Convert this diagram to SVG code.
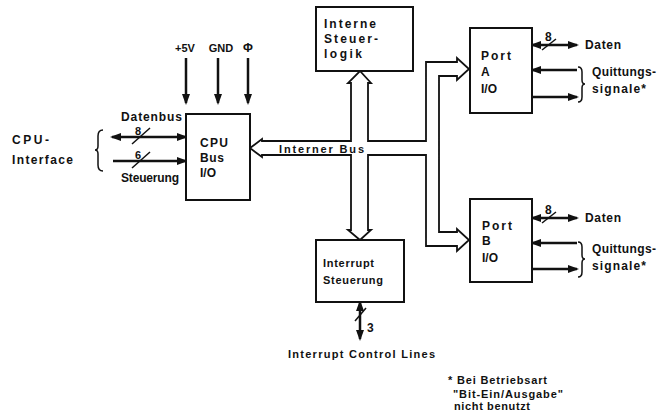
<svg xmlns="http://www.w3.org/2000/svg" width="661" height="412" viewBox="0 0 661 412">
<style>
  .box { fill: #fff; stroke: #111; stroke-width: 2; }
  .t { font-family: "Liberation Sans", Arial, sans-serif; font-size: 12px; font-weight: bold; fill: #111; }
  .s { font-size: 11px; }
  .sig { stroke: #111; stroke-width: 2.5; fill: none; }
  .thin { stroke: #111; stroke-width: 1.5; fill: none; }
  .bus { fill: #fff; stroke: #111; stroke-width: 1.8; stroke-linejoin: miter; }
</style>
<defs>
  <marker id="ah" markerWidth="11" markerHeight="8" refX="9" refY="4" orient="auto-start-reverse" markerUnits="userSpaceOnUse">
    <path d="M0,0 L11,4 L0,8 z" fill="#111"/>
  </marker>
</defs>
<rect width="661" height="412" fill="#fff"/>

<g id="connectors">
  <path class="bus" d="M250,148 L262,139 L262,141 L351,141 L351,83 L348,83 L360,71 L371,83 L368,83 L368,141 L426,141 L426,62 L457,62 L457,58 L469,69 L457,80 L457,76 L439,76 L439,232 L457,232 L457,229 L469,240 L457,251 L457,246 L426,246 L426,155 L368,155 L368,230 L371,230 L360,240 L348,230 L351,230 L351,155 L262,155 L262,157 Z"/>
  <line class="sig" x1="186" y1="58" x2="186" y2="103" marker-end="url(#ah)"/>
  <line class="sig" x1="218" y1="58" x2="218" y2="103" marker-end="url(#ah)"/>
  <line class="sig" x1="248" y1="58" x2="248" y2="103" marker-end="url(#ah)"/>
  <line class="sig" x1="112" y1="137" x2="186" y2="137" marker-start="url(#ah)" marker-end="url(#ah)"/>
  <line class="thin" x1="132" y1="144" x2="150" y2="128"/>
  <line class="sig" x1="113" y1="161" x2="186" y2="161" marker-end="url(#ah)"/>
  <line class="thin" x1="132" y1="168" x2="150" y2="152"/>
  <path class="thin" d="M103,130 Q98,130 98,136 L98,146 Q98,150 95,150 Q98,150 98,154 L98,165 Q98,171 103,171"/>
  <line class="sig" x1="532" y1="45" x2="577" y2="45" marker-start="url(#ah)" marker-end="url(#ah)"/>
  <line class="thin" x1="542" y1="50" x2="556" y2="39"/>
  <line class="sig" x1="577" y1="70" x2="532" y2="70" marker-end="url(#ah)"/>
  <line class="sig" x1="532" y1="97" x2="577" y2="97" marker-end="url(#ah)"/>
  <path class="thin" d="M578,67 Q582,67 582,72 L582,80 Q582,84 585,84 Q582,84 582,88 L582,97 Q582,102 578,102"/>
  <line class="sig" x1="532" y1="218" x2="577" y2="218" marker-start="url(#ah)" marker-end="url(#ah)"/>
  <line class="thin" x1="542" y1="223" x2="556" y2="212"/>
  <line class="sig" x1="577" y1="243" x2="532" y2="243" marker-end="url(#ah)"/>
  <line class="sig" x1="532" y1="269" x2="577" y2="269" marker-end="url(#ah)"/>
  <path class="thin" d="M578,242 Q582,242 582,247 L582,255 Q582,259 585,259 Q582,259 582,263 L582,272 Q582,277 578,277"/>
  <line class="sig" x1="360" y1="302" x2="360" y2="339" marker-start="url(#ah)" marker-end="url(#ah)"/>
  <line class="thin" x1="355" y1="321" x2="366" y2="308"/>
</g>

<g id="cpu-bus-io">
  <rect class="box" x="186" y="114" width="64" height="86"/>
  <text class="t" x="200" y="147" textLength="28" lengthAdjust="spacing">CPU</text>
  <text class="t" x="200" y="162" textLength="24" lengthAdjust="spacing">Bus</text>
  <text class="t" x="200" y="177">I/O</text>
</g>

<g id="interne-steuerlogik">
  <rect class="box" x="316" y="7" width="97" height="64"/>
  <text class="t" x="324" y="28" textLength="52" lengthAdjust="spacing">Interne</text>
  <text class="t" x="324" y="43" textLength="54" lengthAdjust="spacing">Steuer-</text>
  <text class="t" x="324" y="58" textLength="38" lengthAdjust="spacing">logik</text>
</g>

<g id="port-a">
  <rect class="box" x="470" y="28" width="62" height="85"/>
  <text class="t" x="481" y="60" textLength="30" lengthAdjust="spacing">Port</text>
  <text class="t" x="481" y="76">A</text>
  <text class="t" x="481" y="93">I/O</text>
</g>

<g id="port-b">
  <rect class="box" x="470" y="199" width="62" height="83"/>
  <text class="t" x="482" y="230" textLength="30" lengthAdjust="spacing">Port</text>
  <text class="t" x="482" y="245">B</text>
  <text class="t" x="482" y="262">I/O</text>
</g>

<g id="interrupt-steuerung">
  <rect class="box" x="316" y="240" width="88" height="62"/>
  <text class="t s" x="323" y="267" textLength="51" lengthAdjust="spacing">Interrupt</text>
  <text class="t s" x="323" y="284" textLength="60" lengthAdjust="spacing">Steuerung</text>
</g>

<g id="labels">
  <text class="t s" x="185" y="52" text-anchor="middle">+5V</text>
  <text class="t s" x="221" y="52" text-anchor="middle">GND</text>
  <text class="t" x="248" y="52" text-anchor="middle">Φ</text>
  <text class="t" x="121" y="121" textLength="61" lengthAdjust="spacing">Datenbus</text>
  <text class="t s" x="135" y="135">8</text>
  <text class="t s" x="135" y="159">6</text>
  <text class="t" x="121" y="182" textLength="58" lengthAdjust="spacing">Steuerung</text>
  <text class="t" x="12" y="144" textLength="37" lengthAdjust="spacing" font-weight="normal">CPU-</text>
  <text class="t" x="12" y="164" textLength="61" lengthAdjust="spacing" font-weight="normal">Interface</text>
  <text class="t s" x="279" y="153" textLength="85" lengthAdjust="spacing" font-weight="normal">Interner Bus</text>
  <text class="t" x="545" y="41">8</text>
  <text class="t" x="585" y="49" textLength="36" lengthAdjust="spacing">Daten</text>
  <text class="t" x="592" y="76" textLength="64" lengthAdjust="spacing">Quittungs-</text>
  <text class="t" x="592" y="93" textLength="54" lengthAdjust="spacing">signale*</text>
  <text class="t" x="545" y="214">8</text>
  <text class="t" x="585" y="222" textLength="36" lengthAdjust="spacing">Daten</text>
  <text class="t" x="592" y="253" textLength="64" lengthAdjust="spacing">Quittungs-</text>
  <text class="t" x="592" y="270" textLength="54" lengthAdjust="spacing">signale*</text>
  <text class="t" x="367" y="332">3</text>
  <text class="t s" x="288" y="358" textLength="147" lengthAdjust="spacing">Interrupt Control Lines</text>
  <text class="t s" x="448" y="384" textLength="99" lengthAdjust="spacing">* Bei Betriebsart</text>
  <text class="t s" x="453" y="398" textLength="110" lengthAdjust="spacing">"Bit-Ein/Ausgabe"</text>
  <text class="t s" x="454" y="410" textLength="76" lengthAdjust="spacing">nicht benutzt</text>
</g>
</svg>
